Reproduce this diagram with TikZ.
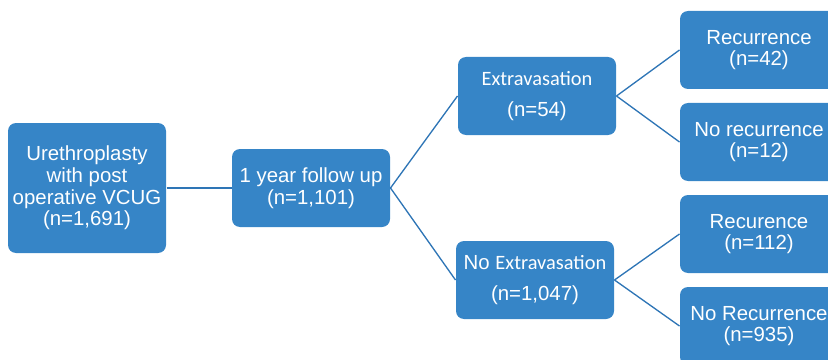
\documentclass[tikz,border=0pt]{standalone}
\usepackage{fontspec}
\setmainfont{Liberation Sans}
\newfontfamily\calibri{Carlito}
\usepackage{tikz}
\definecolor{boxblue}{RGB}{54,133,199}
\definecolor{lineblue}{RGB}{46,117,182}
\tikzset{every picture/.style={line width=0.75pt}}

\begin{document}
\begin{tikzpicture}[x=0.75pt,y=0.75pt,yscale=-1,xscale=1,
  box/.style={fill=boxblue, rounded corners=6pt, text=white, align=center, inner sep=0pt,
    minimum width=118.5pt, minimum height=58.5pt, font=\fontsize{15.3}{16.3}\selectfont},
  widebox/.style={box, font=\fontsize{15.3}{23}\selectfont},
  link/.style={draw=lineblue, line width=1pt}]
%set diagram left start at 0, and has height of 360
\useasboundingbox (0,0) rectangle (828,360);
\clip (0,0) rectangle (828,360);

%Shape: Rectangle [start]
\node (start) at (87,188) [box, minimum height=97.5pt] {Urethroplasty\\with post\\operative VCUG\\(n=1,691)};
%Shape: Rectangle [followup]
\node (followup) at (311,188) [box] {1 year follow up\\(n=1,101)};
%Shape: Rectangle [extra]
\node (extra) at (537,96) [widebox] {{\calibri Extravasation}\\(n=54)};
%Shape: Rectangle [noextra]
\node (noextra) at (535,280) [widebox] {No {\calibri Extravasation}\\(n=1,047)};
%Shape: Rectangle [extrarec]
\node (extrarec) at (759,50) [box] {Recurrence\\(n=42)};
%Shape: Rectangle [extranorec]
\node (extranorec) at (759,142) [box] {No recurrence\\(n=12)};
%Shape: Rectangle [noextrarec]
\node (noextrarec) at (759,234) [box] {Recurence\\(n=112)};
%Shape: Rectangle [noextranorec]
\node (noextranorec) at (759,326) [box] {No Recurrence\\(n=935)};

%Straight Lines
\draw [link] (start.east) -- (followup.west) ;
\draw [link] (followup.east) -- (extra.west) ;
\draw [link] (followup.east) -- (noextra.west) ;
\draw [link] (extra.east) -- (extrarec.west) ;
\draw [link] (extra.east) -- (extranorec.west) ;
\draw [link] (noextra.east) -- (noextrarec.west) ;
\draw [link] (noextra.east) -- (noextranorec.west) ;

\end{tikzpicture}
\end{document}
